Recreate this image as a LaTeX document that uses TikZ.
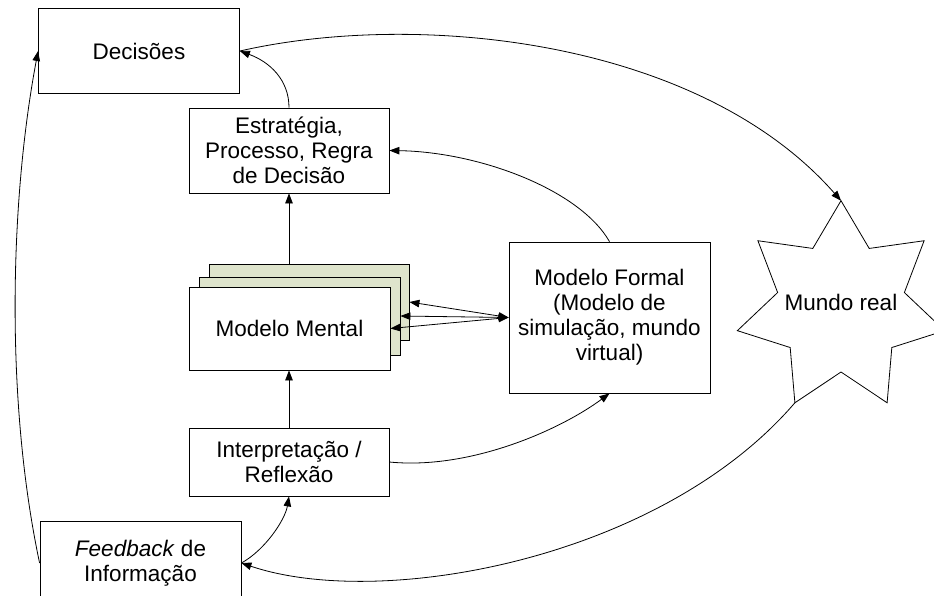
\documentclass[tikz,border=0pt]{standalone}
\usepackage{fontspec}
\setmainfont{Liberation Sans}
\usetikzlibrary{arrows.meta}
\definecolor{stackfill}{RGB}{222,228,204}
\begin{document}
\begin{tikzpicture}[x=1pt,y=-1pt,
  txt/.style={font=\fontsize{22.5}{25}\selectfont},
  box/.style={draw, line width=0.8pt, fill=white, align=center, inner sep=2pt, txt},
  stackbox/.style={draw, line width=0.8pt, fill=stackfill},
  conn/.style={line width=0.8pt, -{Triangle[length=10pt,width=7.5pt]}},
  bidir/.style={line width=0.8pt, {Triangle[length=10pt,width=7.5pt]}-{Triangle[length=10pt,width=7.5pt]}}]
\useasboundingbox (0,0) rectangle (934,595);
\node[box, minimum width=201pt, minimum height=85pt] (dec) at (139,51) {Decisões};
\node[box, minimum width=200pt, minimum height=85pt] (estr) at (289,150.5) {Estratégia,\\Processo, Regra\\de Decisão};
\node[stackbox, minimum width=200pt, minimum height=76pt] (back) at (309,302) {};
\node[stackbox, minimum width=201pt, minimum height=78pt] (mid) at (299.5,316) {};
\node[box, minimum width=201pt, minimum height=83pt] (mm) at (289.5,328.5) {Modelo Mental};
\node[box, minimum width=200pt, minimum height=68pt] (interp) at (289,462) {Interpretação /\\Reflexão};
\node[box, minimum width=201pt, minimum height=84pt] (fb) at (140.5,563) {\textit{Feedback} de\\Informação};
\node[box, minimum width=201pt, minimum height=151pt] (mf) at (609.5,317.5) {Modelo Formal\\(Modelo de\\simulação, mundo\\virtual)};
% Mundo real: seven-pointed star
\coordinate (mrc) at (841,307);
\draw[line width=0.8pt, fill=white] ([shift={(mrc)}]-90:106.3)
  \foreach \k [evaluate=\k as \a using -90+(\k+0.5)*51.428571,
               evaluate=\k as \b using -90+(\k+1)*51.428571] in {0,...,6} {
    -- ([shift={(mrc)}]\a:65)
    -- ([shift={(mrc)}]\b:106.3)
  } -- cycle;
\coordinate (mrtop) at ([shift={(mrc)}]-90:106.3);
\coordinate (mrbl) at ([shift={(mrc)}]115.714286:106.3);
\node[txt, inner sep=0pt] (mr) at (841,302) {Mundo real};

\draw[conn] (estr.north) .. controls (289,80) and (270,62) .. (dec.east);
\draw[conn] (dec.east) .. controls (420,10) and (700,40) .. (mrtop);
\draw[conn] (estr.south |- back.north) -- (estr.south);
\draw[conn] (mf.north) .. controls (580,190) and (480,152) .. (estr.east);
\draw[conn] (interp.north) -- (interp.north |- mm.south);
\draw[bidir] (mf.west) -- (back.east);
\draw[bidir] (mf.west) -- (mid.east);
\draw[bidir] (mf.west) -- (mm.east);
\draw[conn] (interp.east) .. controls (470,470) and (560,430) .. (mf.south);
\draw[conn] (mrbl) .. controls (660,560) and (380,610) .. (fb.east);
\draw[conn] (fb.east) .. controls (265,550) and (285,520) .. (interp.south);
\draw[conn] (fb.west) .. controls (5,400) and (10,200) .. (dec.west);
\end{tikzpicture}
\end{document}
